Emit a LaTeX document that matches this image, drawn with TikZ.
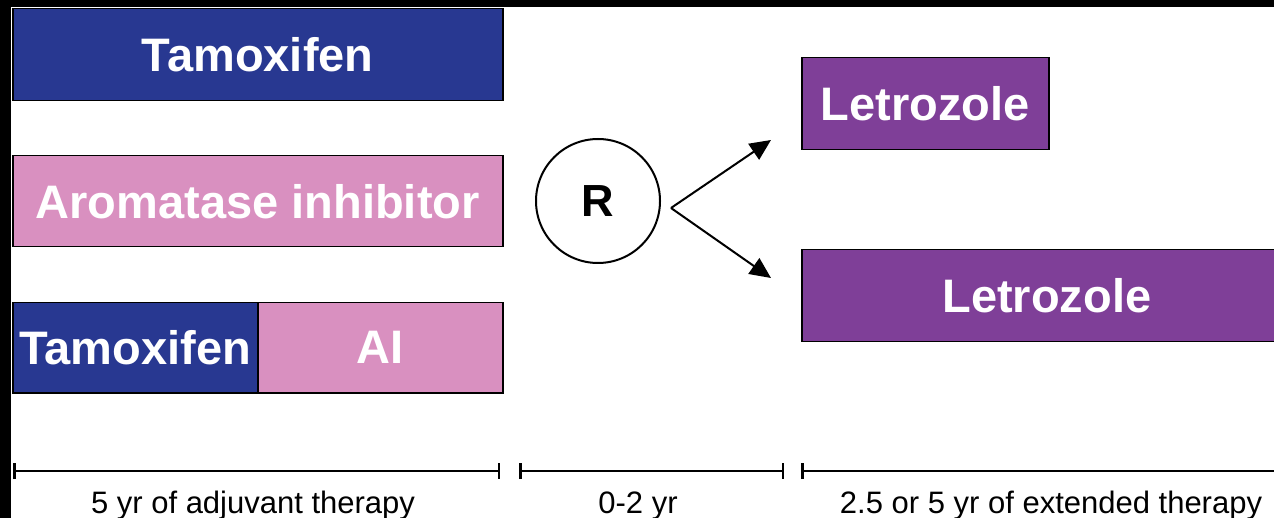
\documentclass[tikz,border=0pt]{standalone}
\usepackage{fontspec}
\setmainfont{Liberation Sans}
\usetikzlibrary{arrows.meta}
\definecolor{tamblue}{RGB}{40,56,145}
\definecolor{aipink}{RGB}{217,144,192}
\definecolor{letpurple}{RGB}{127,63,152}
\begin{document}
\begin{tikzpicture}[x=1pt,y=-1pt,
  bar/.style={draw=black,line width=1.5pt,inner sep=0pt,text=white,
    font=\fontsize{47}{54}\selectfont\bfseries,anchor=north west},
  tambar/.style={bar,fill=tamblue},
  aibar/.style={bar,fill=aipink},
  letbar/.style={bar,fill=letpurple},
  rnode/.style={circle,draw=black,line width=2pt,minimum size=124pt,inner sep=0pt,
    font=\fontsize{45}{54}\selectfont\bfseries},
  branch/.style={line width=2pt,-{Triangle[length=21pt,width=19pt]}},
  span/.style={line width=2pt,{Bar[width=16pt,line width=2.5pt]}-{Bar[width=16pt,line width=2.5pt]}},
  spanlabel/.style={anchor=base,font=\fontsize{31}{36}\selectfont}]
\useasboundingbox (0,0) rectangle (1274,518);
\clip (0,0) rectangle (1274,518);
\fill[black] (0,0) rectangle (1274,7);
\fill[black] (0,0) rectangle (11,518);

\node[tambar,minimum width=490pt,minimum height=92pt] (tam1) at (12,8) {Tamoxifen};
\node[aibar,minimum width=490pt,minimum height=91pt] (ai1) at (12,155) {Aromatase inhibitor};
\node[tambar,minimum width=245pt,minimum height=90pt] (tam2) at (12,302) {Tamoxifen};
\node[aibar,minimum width=245pt,minimum height=90pt] (ai2) at (257,302) {AI};

\node[rnode] (R) at (598,201) {R};
\coordinate (split) at (671,208);
\coordinate (tipup) at (771,140);
\coordinate (tipdown) at (771,278);
\draw[branch] (split) -- (tipup);
\draw[branch] (split) -- (tipdown);

\node[letbar,minimum width=247pt,minimum height=92pt] (let1) at (801,57) {Letrozole};
\node[letbar,minimum width=490pt,minimum height=92pt] (let2) at (801,249) {Letrozole};

\coordinate (s1a) at (13,471);
\coordinate (s1b) at (500,471);
\coordinate (s2a) at (519,471);
\coordinate (s2b) at (784,471);
\coordinate (s3a) at (801,471);
\coordinate (s3b) at (1300,471);
\draw[span] (s1a) -- (s1b);
\draw[span] (s2a) -- (s2b);
\draw[span] (s3a) -- (s3b);

\node[spanlabel] (l1) at (253,513) {5 yr of adjuvant therapy};
\node[spanlabel] (l2) at (638,513) {0-2 yr};
\node[spanlabel] (l3) at (1051,513) {2.5 or 5 yr of extended therapy};
\end{tikzpicture}
\end{document}
